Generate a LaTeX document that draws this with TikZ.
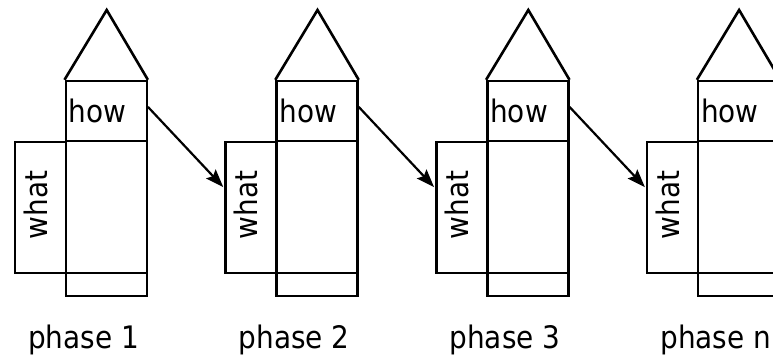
\documentclass[tikz,border=0pt]{standalone}
\usepackage{fontspec}
\setmainfont{DejaVu Sans Condensed}
\usetikzlibrary{arrows.meta}
\begin{document}
\begin{tikzpicture}[x=1pt,y=-1pt,
  line width=2.4pt,
  box/.style={draw, rectangle, inner sep=0pt, line join=miter, line width=2.4pt},
  lbl/.style={font=\fontsize{31}{34}\selectfont, inner sep=0pt},
  conn/.style={-{Stealth[length=18pt,width=13pt,inset=3pt]}, line width=2.2pt, shorten >=1.5pt}]
\useasboundingbox (0,0) rectangle (773,360);
\foreach \i in {0,1,2,3}{
  \begin{scope}[xshift={210.8*\i}]
    \node[box, minimum width=81pt, minimum height=59.7pt, text width=75pt, inner xsep=3pt, align=left, lbl] (how\i) at (106.2,110.85) {how};
    \node[box, minimum width=81pt, minimum height=132pt] (body\i) at (106.2,206.7) {};
    \node[box, minimum width=81pt, minimum height=23.3pt] (base\i) at (106.2,284.35) {};
    \node[box, minimum width=51pt, minimum height=131pt] (what\i) at (40.2,207.2) {};
    \node[lbl, rotate=90] (whatt\i) at (35.5,205) {what};
    \coordinate (apex\i) at (106.7,10);
    \draw[line join=miter, line width=2.6pt] (how\i.north west) -- (apex\i) -- (how\i.north east);
  \end{scope}
}
\node[lbl, anchor=base] (p1) at (83.4,348) {phase 1};
\node[lbl, anchor=base] (p2) at (294.2,348) {phase 2};
\node[lbl, anchor=base] (p3) at (505,348) {phase 3};
\node[lbl, anchor=base] (p4) at (715.8,348) {phase n};
\foreach \a/\b in {0/1,1/2,2/3}{
  \draw[conn] ([yshift=4pt]how\a.east) -- ([yshift=19pt]what\b.west);
}
\end{tikzpicture}
\end{document}
